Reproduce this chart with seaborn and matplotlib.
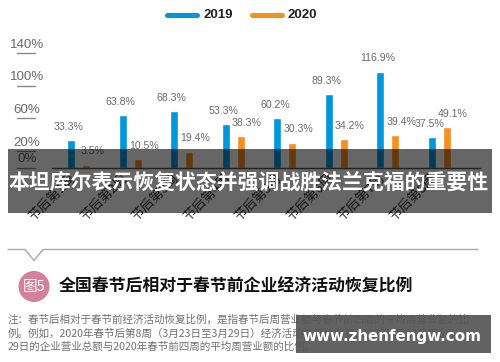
import matplotlib
matplotlib.use("Agg")
import matplotlib.pyplot as plt
from matplotlib.lines import Line2D
from matplotlib.patches import Rectangle, Ellipse
import seaborn as sns
import pandas as pd

# ---------------- data ----------------
weeks = ["节后第1周", "节后第2周", "节后第3周", "节后第4周",
         "节后第5周", "节后第6周", "节后第7周", "节后第8周"]
series_names = ["2019", "2020"]
values_2019 = [33.3, 63.8, 68.3, 53.3, 60.2, 89.3, 116.9, 37.5]
values_2020 = [3.5, 10.5, 19.4, 38.3, 30.3, 34.2, 39.4, 49.1]
ytick_values = [0, 20, 60, 100, 140]
ytick_labels = ["0%", "20%", "60%", "100%", "140%"]

banner_text = "本坦库尔表示恢复状态并强调战胜法兰克福的重要性"
fig_badge = "图5"
title_text = "全国春节后相对于春节前企业经济活动恢复比例"
note_lines = [
    "注：春节后相对于春节前经济活动恢复比例，是指春节后周营业额与春节前四周的平均周营业额的比",
    "例。例如，2020年春节后第8周（3月23日至3月29日）经济活动恢复比例是2020年3月23日至3月",
    "29日的企业营业总额与2020年春节前四周的平均周营业额的比例。",
]
watermark = "www.zhenfengw.com"

# ---------------- style ----------------
sns.set_style("white")
plt.rcParams["font.family"] = ["Liberation Sans", "Noto Sans CJK SC", "DejaVu Sans"]
CJK = ["Noto Sans CJK SC", "DejaVu Sans"]
BLUE = "#0096db"
ORANGE = "#f7901e"
W, H = 500, 362

def fx(px):
    return px / W

def fy(py):
    return 1 - py / H

df = pd.DataFrame({
    "week": weeks * 2,
    "year": [series_names[0]] * len(weeks) + [series_names[1]] * len(weeks),
    "value": values_2019 + values_2020,
})

fig = plt.figure(figsize=(5, 3.62), dpi=100)
fig.patch.set_facecolor("white")

base_px = 167.5
top_ylim = 145
scale = 0.82
ax_left, ax_right = 52, 480
ax = fig.add_axes([fx(ax_left), fy(base_px), (ax_right - ax_left) / W,
                   top_ylim * scale / H])

sns.barplot(data=df, x="week", y="value", hue="year", order=weeks,
            hue_order=series_names, palette=[BLUE, ORANGE], saturation=1,
            width=0.583, gap=0.467, legend=False, ax=ax)

ax.set_xlim(-0.515, 7.796)
ax.set_ylim(0, top_ylim)
ax.set_xlabel("")
ax.set_ylabel("")
for s in ["top", "right", "left"]:
    ax.spines[s].set_visible(False)
ax.spines["bottom"].set_color("#555555")
ax.spines["bottom"].set_linewidth(1.0)
ax.set_yticks([])
ax.set_xticks(range(len(weeks)))
ax.set_xticklabels(weeks, rotation=45, ha="right", family=CJK,
                   fontsize=9.5, color="#333333")
ax.tick_params(axis="x", length=0, pad=3)
ax.set_facecolor("none")

# y tick labels with underline marks
ytr = ax.get_yaxis_transform()
span = ax_right - ax_left
for v, lab in zip(ytick_values, ytick_labels):
    ax.plot([(17 - ax_left) / span, (35 - ax_left) / span],
            [v, v], transform=ytr, color="#8a8a8a", lw=1.0, clip_on=False)
    ax.annotate(lab, xy=((27 - ax_left) / span, v), xycoords=ytr,
                xytext=(0, 5.8), textcoords="offset points", ha="center",
                va="center", fontsize=9.6, color="#6a6a6a")

# value labels
for cont, vals, dx in zip(ax.containers, [values_2019, values_2020], [-1.5, 4.5]):
    for bar, v in zip(cont, vals):
        ax.annotate(f"{v:.1f}%", xy=(bar.get_x() + bar.get_width() / 2, bar.get_height()),
                    xytext=(dx, 9.5), textcoords="offset points", ha="center",
                    va="center", fontsize=7.6, color="#6a6a6a")

# legend
for i, (name, col) in enumerate(zip(series_names, [BLUE, ORANGE])):
    x0 = 167 + i * 85
    fig.add_artist(Line2D([fx(x0), fx(x0 + 30)], [fy(15), fy(15)], color=col, lw=3.6,
                          transform=fig.transFigure))
    fig.text(fx(x0 + 36), fy(15.5), name, ha="left", va="center", fontsize=9.5,
             fontweight="bold", color="#222222")

# banner overlay
fig.add_artist(Rectangle((fx(8), fy(213)), fx(484), (213 - 149) / H,
                         transform=fig.transFigure, facecolor="black", alpha=0.6,
                         edgecolor="none", zorder=4))
fig.text(fx(249), fy(182), banner_text, ha="center", va="center", fontsize=15,
         fontweight="bold", color="white", family=CJK, zorder=5)

# separator with notch
fig.add_artist(Line2D([fx(8), fx(25), fx(34), fx(43), fx(478)],
                      [fy(249.5), fy(249.5), fy(260.5), fy(249.5), fy(249.5)],
                      color="#a8a8a8", lw=1.0, transform=fig.transFigure))

# badge and title
fig.add_artist(Ellipse((fx(34), fy(286.5)), 31 / W, 31 / H, transform=fig.transFigure,
                       facecolor="#d4809a", edgecolor="none"))
fig.text(fx(34.5), fy(286.5), fig_badge, ha="center", va="center", fontsize=10.5,
         color="white", family=CJK, zorder=5)
fig.text(fx(59), fy(287), title_text, ha="left", va="center", fontsize=12.2,
         fontweight="bold", color="#111111", family=CJK)

# note
for i, line in enumerate(note_lines):
    fig.text(fx(8), fy(320 + i * 13.5), line, ha="left", va="center", fontsize=7.6,
             color="#707070", family=CJK)

# watermark
fig.add_artist(Rectangle((fx(296), fy(353)), fx(195), (353 - 315) / H,
                         transform=fig.transFigure, facecolor="#555555", alpha=0.92,
                         edgecolor="none", zorder=4))
fig.text(fx(392), fy(336), watermark, ha="center", va="center", fontsize=10.9,
         fontweight="bold", color="white", family=["DejaVu Sans"], zorder=5)

fig.savefig("out.png", dpi=100)
